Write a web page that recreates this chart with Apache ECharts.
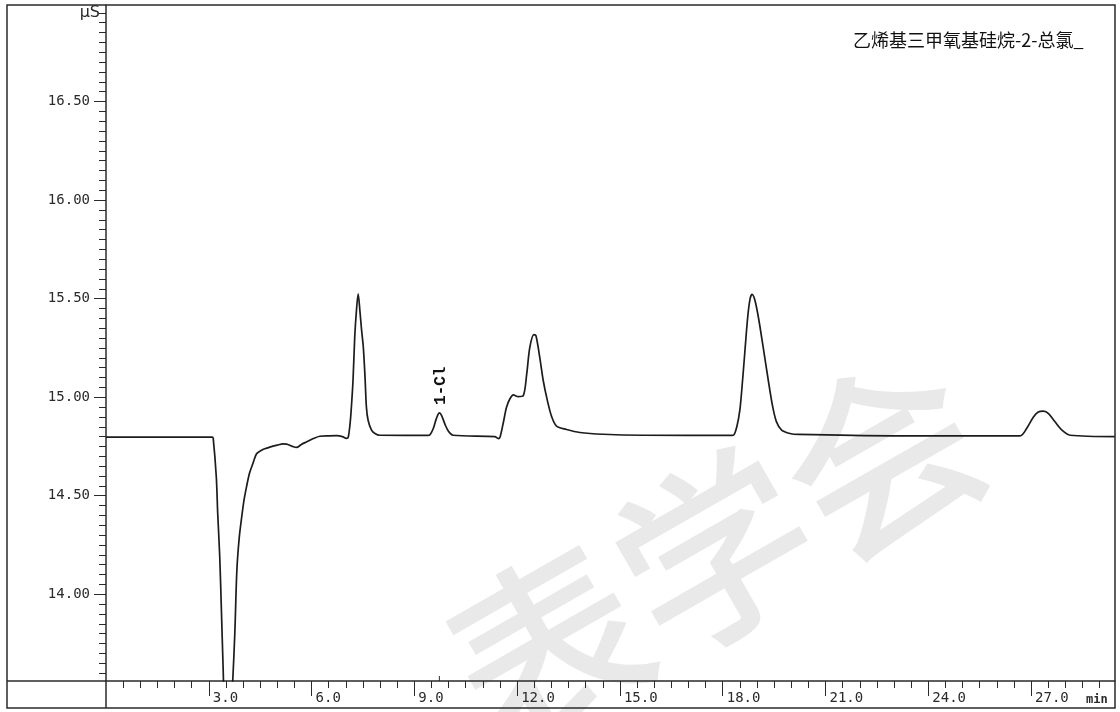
<!DOCTYPE html>
<html>
<head>
<meta charset="utf-8">
<script src="https://cdn.jsdelivr.net/npm/echarts@6/dist/echarts.min.js"></script>
<style>
  html, body { margin: 0; padding: 0; background: #fff; }
  #chart { width: 1120px; height: 712px; }
</style>
</head>
<body>
<div id="chart"></div>
<script>
// Conductivity detector trace: retention time (min) and signal (μS)
const timeMin = [
  0.00, 3.10, 3.13, 3.22, 3.26, 3.32, 3.37, 3.42, 3.47, 3.55, 3.63, 3.70, 3.76, 3.82, 3.89, 3.96,
  4.03, 4.10, 4.19, 4.29, 4.39, 4.49, 4.63, 4.78, 5.00, 5.16, 5.27, 5.42, 5.56, 5.70, 5.85, 6.05,
  6.24, 6.50, 6.73, 6.90, 7.02, 7.07, 7.12, 7.15, 7.21, 7.26, 7.31, 7.36, 7.41, 7.46, 7.51, 7.56,
  7.60, 7.65, 7.75, 7.85, 7.99, 9.40, 9.45, 9.55, 9.65, 9.73, 9.80, 9.90, 10.00, 10.13,
  11.35, 11.45, 11.50, 11.59, 11.69, 11.79, 11.89, 12.03, 12.18, 12.28, 12.37, 12.49, 12.55,
  12.66, 12.76, 12.88, 13.01, 13.15, 13.44, 13.83, 14.51, 15.68, 18.20, 18.31, 18.41, 18.50,
  18.58, 18.65, 18.73, 18.80, 18.86, 18.94, 19.04, 19.18, 19.33, 19.46, 19.57, 19.72, 19.96,
  20.21, 22.98, 26.68, 26.87, 27.07, 27.21, 27.36, 27.51, 27.70, 27.90, 28.14, 29.45
];
const signalUS = [
  14.797, 14.797, 14.790, 14.594, 14.412, 14.189, 13.910, 13.616, 13.350, 13.250, 13.350, 13.565, 13.803, 14.123, 14.290, 14.391,
  14.480, 14.544, 14.615, 14.665, 14.712, 14.726, 14.738, 14.747, 14.757, 14.763, 14.762, 14.752, 14.745, 14.760, 14.773, 14.790,
  14.802, 14.804, 14.805, 14.800, 14.791, 14.797, 14.860, 14.919, 15.086, 15.306, 15.440, 15.525, 15.440, 15.340, 15.255, 15.103,
  14.951, 14.883, 14.833, 14.816, 14.807, 14.806, 14.808, 14.840, 14.895, 14.920, 14.905, 14.860, 14.826, 14.807,
  14.800, 14.790, 14.797, 14.865, 14.949, 14.992, 15.012, 15.003, 15.008, 15.118, 15.253, 15.317, 15.312,
  15.202, 15.086, 14.985, 14.900, 14.853, 14.836, 14.821, 14.812, 14.807, 14.806, 14.807, 14.849, 14.934,
  15.086, 15.238, 15.407, 15.500, 15.522, 15.492, 15.407, 15.255, 15.086, 14.951, 14.875, 14.833, 14.816,
  14.811, 14.804, 14.804, 14.841, 14.900, 14.925, 14.929, 14.917, 14.875, 14.833, 14.807, 14.800
];

// Axis labels
const yTickLabels = [14.0, 14.5, 15.0, 15.5, 16.0, 16.5];
const xTickLabels = [3, 6, 9, 12, 15, 18, 21, 24, 27];

// Identified peak
const peakName = '1-Cl';
const peakTime = 9.73;
const peakSignal = 14.92;

const sampleTitle = '乙烯基三甲氧基硅烷-2-总氯_';
const yUnit = 'μS';
const xUnit = 'min';
const watermarkText = '表学会';

const Y_MIN = 13.56, Y_MAX = 16.99;
const X_MIN = 0, X_MAX = 29.45;

// minor tick positions
const yMinor = [];
for (let i = Math.ceil(Y_MIN / 0.05); i * 0.05 <= Y_MAX; i++) yMinor.push(+(i * 0.05).toFixed(2));
const xMinor = [];
for (let i = 1; i * 0.5 < X_MAX; i++) xMinor.push(i * 0.5);

const MONO = '"DejaVu Sans Mono", "Liberation Mono", monospace';
const INK = '#2a2a2a';

const chart = echarts.init(document.getElementById('chart'), null, { renderer: 'canvas' });

const traceData = timeMin.map((t, i) => [t, signalUS[i]]);

const option = {
  backgroundColor: '#ffffff',
  animation: false,
  grid: { left: 106, right: 5, top: 5, bottom: 31, containLabel: false },
  xAxis: [
    {
      type: 'value', min: X_MIN, max: X_MAX,
      axisLine: { show: true, onZero: false, lineStyle: { color: INK, width: 1.5 } },
      axisTick: { show: true, customValues: xTickLabels, length: 15, lineStyle: { color: INK, width: 1 } },
      axisLabel: {
        show: true, customValues: xTickLabels,
        formatter: v => Number(v).toFixed(1),
        align: 'left', verticalAlign: 'top', padding: [0, 0, 0, 4], margin: 10,
        fontFamily: MONO, fontSize: 14, color: INK
      },
      splitLine: { show: false }
    },
    {
      type: 'value', min: X_MIN, max: X_MAX, position: 'bottom',
      axisLine: { show: false },
      axisTick: { show: true, customValues: xMinor, length: 7, lineStyle: { color: INK, width: 1 } },
      axisLabel: { show: false },
      splitLine: { show: false }
    }
  ],
  yAxis: [
    {
      type: 'value', min: Y_MIN, max: Y_MAX, position: 'left',
      axisLine: { show: true, onZero: false, lineStyle: { color: INK, width: 1.5 } },
      axisTick: { show: true, customValues: yTickLabels, length: 12, lineStyle: { color: INK, width: 1 } },
      axisLabel: {
        show: true, customValues: yTickLabels,
        formatter: v => Number(v).toFixed(2),
        margin: 16, fontFamily: MONO, fontSize: 14, color: INK
      },
      splitLine: { show: false }
    },
    {
      type: 'value', min: Y_MIN, max: Y_MAX, position: 'left',
      axisLine: { show: false },
      axisTick: { show: true, customValues: yMinor, length: 7, lineStyle: { color: INK, width: 1 } },
      axisLabel: { show: false },
      splitLine: { show: false }
    }
  ],
  series: [
    {
      type: 'line',
      xAxisIndex: 0, yAxisIndex: 0,
      data: traceData,
      showSymbol: false,
      smooth: 0.3,
      clip: true,
      z: 5,
      lineStyle: { color: '#1c1c1c', width: 1.7 }
    }
  ]
};

chart.setOption(option);

// Frame, unit labels, title, peak annotation
const peakPx = chart.convertToPixel({ gridIndex: 0 }, [peakTime, peakSignal]);
const axisY = chart.convertToPixel({ gridIndex: 0 }, [peakTime, Y_MIN])[1];

chart.setOption({
  graphic: [
    {
      type: 'text', x: 715, y: 552, rotation: 0.52, z: 0, silent: true,
      style: {
        text: watermarkText, font: '500 192px "Noto Sans CJK SC"',
        fill: '#e9e9e9', align: 'center', verticalAlign: 'middle'
      }
    },
    {
      type: 'rect', z: 10, silent: true,
      shape: { x: 7, y: 5, width: 1108, height: 703 },
      style: { fill: 'none', stroke: INK, lineWidth: 1.5 }
    },
    {
      type: 'line', z: 10, silent: true,
      shape: { x1: 7, y1: 681, x2: 106, y2: 681 },
      style: { stroke: INK, lineWidth: 1.5 }
    },
    {
      type: 'line', z: 10, silent: true,
      shape: { x1: 106, y1: 681, x2: 106, y2: 708 },
      style: { stroke: INK, lineWidth: 1.5 }
    },
    {
      type: 'text', x: 100, y: 13, z: 10,
      style: { text: yUnit, font: '16px "DejaVu Sans"', fill: INK, align: 'right', verticalAlign: 'middle' }
    },
    {
      type: 'text', x: 1086, y: 700, z: 10,
      style: { text: xUnit, font: 'bold 12px "DejaVu Sans Mono"', fill: INK, align: 'left', verticalAlign: 'middle' }
    },
    {
      type: 'text', x: 853, y: 40, z: 10,
      style: { text: sampleTitle, font: '18px "Noto Sans CJK SC"', fill: '#111', align: 'left', verticalAlign: 'middle' }
    },
    {
      type: 'text', x: peakPx[0] + 2, y: peakPx[1] - 8, rotation: Math.PI / 2, z: 10,
      style: { text: peakName, font: 'bold 16px "Liberation Mono"', fill: '#111', align: 'left', verticalAlign: 'middle' }
    },
    {
      type: 'line', z: 10, silent: true,
      shape: { x1: peakPx[0], y1: axisY, x2: peakPx[0], y2: axisY - 5 },
      style: { stroke: INK, lineWidth: 1 }
    }
  ]
});
</script>
</body>
</html>
